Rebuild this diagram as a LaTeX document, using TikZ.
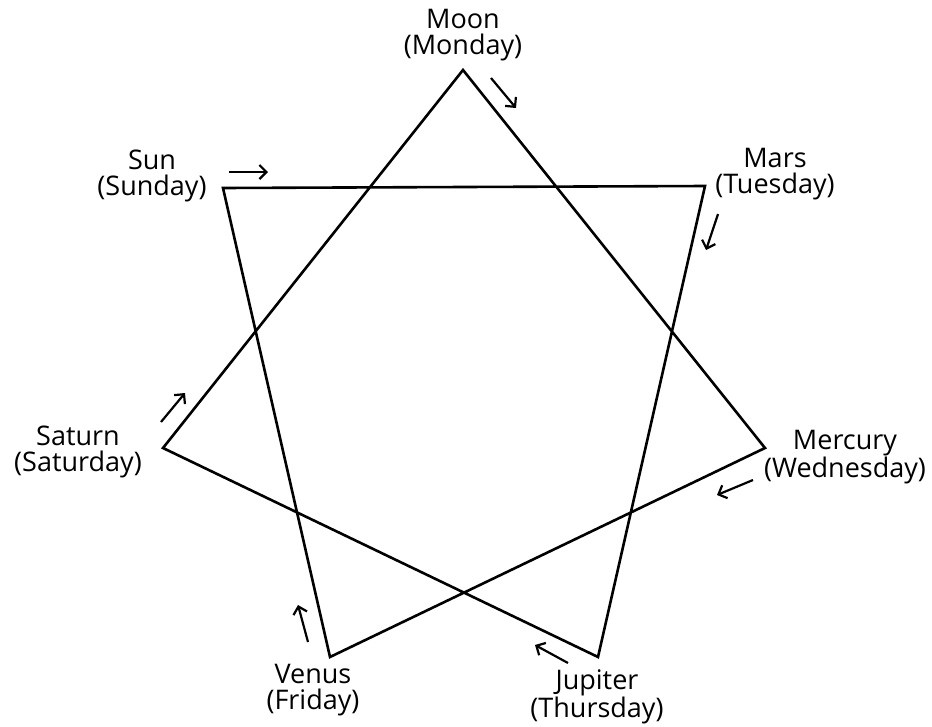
\documentclass[tikz,border=0pt]{standalone}
\usepackage{fontspec}
\setmainfont{Open Sans}
\usetikzlibrary{arrows.meta}
\begin{document}
\begin{tikzpicture}[x=1pt,y=-1pt,
  star/.style={line width=2.6pt,line join=miter},
  dirarrow/.style={line width=2.2pt,-{Straight Barb[length=7pt,width=14pt,line width=2.2pt]}},
  lbl/.style={align=center,font=\fontsize{27}{26}\selectfont,inner sep=0pt}]
\useasboundingbox (0,0) rectangle (932,726);
\coordinate (moon) at (463,70);
\coordinate (mars) at (705,186);
\coordinate (mercury) at (765,448);
\coordinate (jupiter) at (598,657);
\coordinate (venus) at (330,657);
\coordinate (saturn) at (163,448);
\coordinate (sun) at (223,188);
\draw[star] (moon) -- (mercury) -- (venus) -- (sun) -- (mars) -- (jupiter) -- (saturn) -- cycle;
\node[lbl] (lmoon) at (463,35) {Moon\\(Monday)};
\node[lbl] (lsun) at (152,176) {Sun\\(Sunday)};
\node[lbl] (lmars) at (775,174) {Mars\\(Tuesday)};
\node[lbl] (lmercury) at (845,457) {Mercury\\(Wednesday)};
\node[lbl] (ljupiter) at (597,697) {Jupiter\\(Thursday)};
\node[lbl] (lvenus) at (313,690) {Venus\\(Friday)};
\node[lbl] (lsaturn) at (78,452) {Saturn\\(Saturday)};
\coordinate (a1s) at (491,78); \coordinate (a1e) at (516,108);
\coordinate (a2s) at (229,172); \coordinate (a2e) at (268,172);
\coordinate (a3s) at (718,214); \coordinate (a3e) at (706,250);
\coordinate (a4s) at (753,480); \coordinate (a4e) at (717,495);
\coordinate (a5s) at (568,663); \coordinate (a5e) at (535,645);
\coordinate (a6s) at (308,642); \coordinate (a6e) at (298,605);
\coordinate (a7s) at (161,422); \coordinate (a7e) at (185,393);
\draw[dirarrow] (a1s) -- (a1e);
\draw[dirarrow] (a2s) -- (a2e);
\draw[dirarrow] (a3s) -- (a3e);
\draw[dirarrow] (a4s) -- (a4e);
\draw[dirarrow] (a5s) -- (a5e);
\draw[dirarrow] (a6s) -- (a6e);
\draw[dirarrow] (a7s) -- (a7e);
\end{tikzpicture}
\end{document}
